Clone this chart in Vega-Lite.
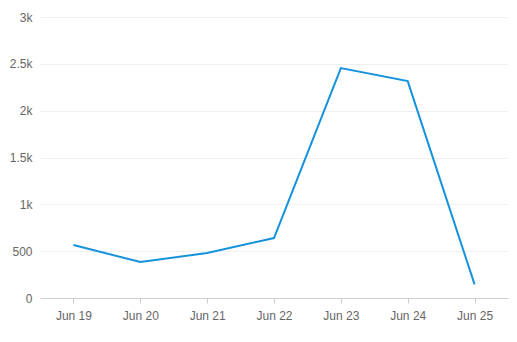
{
  "$schema": "https://vega.github.io/schema/vega-lite/v6.json",
  "autosize": "none",
  "width": 468,
  "height": 281,
  "padding": {"left": 40, "top": 17, "right": 9, "bottom": 44},
  "background": "white",
  "data": {"values": [
    {"date": "Jun 19", "value": 566},
    {"date": "Jun 20", "value": 384},
    {"date": "Jun 21", "value": 480},
    {"date": "Jun 22", "value": 640},
    {"date": "Jun 23", "value": 2455},
    {"date": "Jun 24", "value": 2316},
    {"date": "Jun 25", "value": 145}
  ]},
  "config": {
    "view": {"stroke": null},
    "font": "Liberation Sans"
  },
  "mark": {"type": "line", "color": "#1592dd", "strokeWidth": 2},
  "encoding": {
    "x": {
      "field": "date", "type": "ordinal", "sort": null,
      "scale": {"type": "point", "padding": 0.5},
      "axis": {
        "title": null, "labelAngle": 0, "grid": false,
        "domainColor": "#cccccc", "tickColor": "#cccccc", "tickSize": 5,
        "labelColor": "#666666", "labelFontSize": 12, "labelPadding": 7,
        "labelFont": "Liberation Sans"
      }
    },
    "y": {
      "field": "value", "type": "quantitative",
      "scale": {"domain": [0, 3000], "nice": false},
      "axis": {
        "title": null, "values": [0, 500, 1000, 1500, 2000, 2500, 3000],
        "labelExpr": "datum.value >= 1000 ? format(datum.value / 1000, '~g') + 'k' : format(datum.value, 'd')",
        "domain": false, "ticks": false,
        "gridColor": "#f0f0f0", "labelColor": "#666666", "labelFontSize": 12,
        "labelPadding": 8, "labelFont": "Liberation Sans"
      }
    }
  }
}
